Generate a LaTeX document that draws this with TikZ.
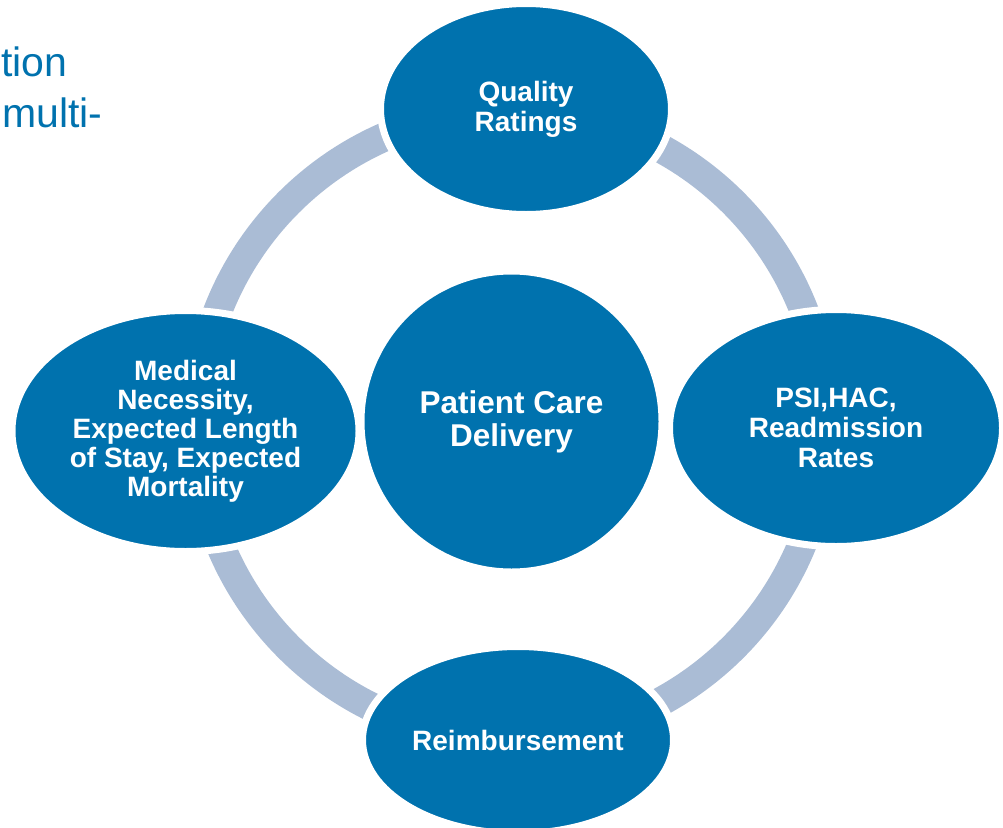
\documentclass[tikz,border=0pt]{standalone}
\usepackage{fontspec}
\setmainfont{Liberation Sans}
\usetikzlibrary{shapes.geometric}
\definecolor{cycleblue}{RGB}{0,114,174}
\definecolor{ringgray}{RGB}{170,188,213}
\begin{document}
\begin{tikzpicture}[x=1pt,y=-1pt,
  bubble/.style={ellipse, fill=cycleblue, draw=white, line width=7pt,
    inner sep=0pt, text=white, align=center,
    font=\bfseries\fontsize{28}{30}\selectfont},
  fragment/.style={anchor=base west, inner sep=0pt, text=cycleblue,
    font=\fontsize{41}{49}\selectfont}
]
\useasboundingbox (0,0) rectangle (1003,827);
\clip (0,0) rectangle (1003,827);

% cut-off heading lines at the top left
\node[fragment] (frag1) at (1,76) {tion};
\node[fragment] (frag2) at (2,127) {multi-};

% the cycle ring behind the bubbles
\coordinate (hub) at (511,425);
\draw[ringgray, line width=29pt] (hub) circle[radius=314.5pt];

% bubbles around the ring
\node[bubble, minimum width=291pt, minimum height=211pt] (quality) at (526,109)
  {Quality\\Ratings};
\node[bubble, minimum width=333pt, minimum height=237pt] (psi) at (836,428)
  {PSI,HAC,\\Readmission\\Rates};
\node[bubble, minimum width=311pt, minimum height=187pt] (reimb) at (518,740)
  {Reimbursement};
\node[bubble, minimum width=347pt, minimum height=241pt,
  font=\bfseries\fontsize{28}{29}\selectfont] (medical) at (185.5,431)
  {Medical\\Necessity,\\Expected Length\\of Stay, Expected\\Mortality};

% centre circle
\node[bubble, circle, minimum size=301pt,
  font=\bfseries\fontsize{31.5}{33}\selectfont] (patient) at (511.5,421.5)
  {Patient Care\\Delivery};
\end{tikzpicture}
\end{document}
